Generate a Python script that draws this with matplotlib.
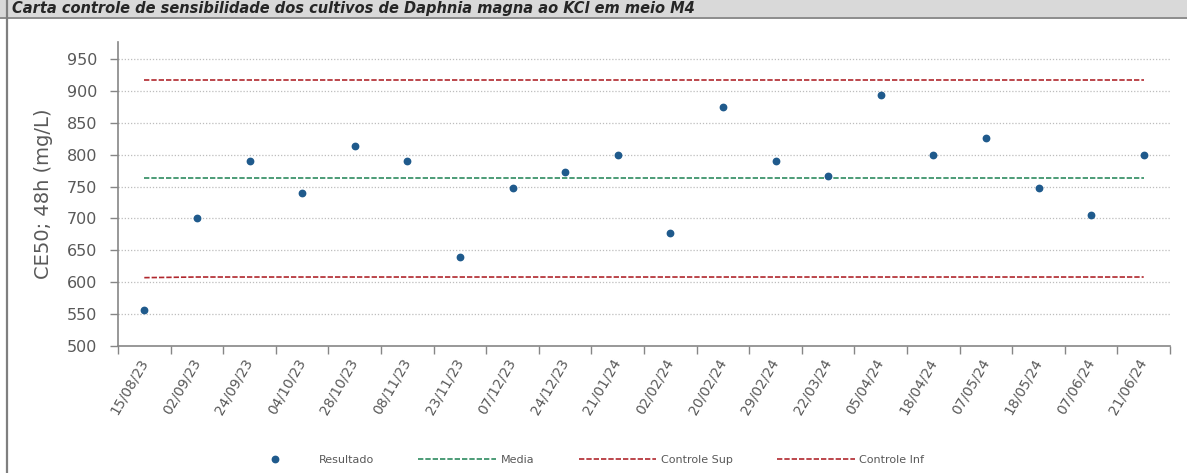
import matplotlib.pyplot as plt
from matplotlib.patches import Rectangle
from matplotlib.lines import Line2D
from matplotlib.ticker import FixedLocator

# data
datas = ["15/08/23", "02/09/23", "24/09/23", "04/10/23", "28/10/23", "08/11/23",
         "23/11/23", "07/12/23", "24/12/23", "21/01/24", "02/02/24", "20/02/24",
         "29/02/24", "22/03/24", "05/04/24", "18/04/24", "07/05/24", "18/05/24",
         "07/06/24", "21/06/24"]
resultado = [556, 700, 790, 740, 814, 790, 639, 747, 773, 800,
             677, 875, 790, 767, 893, 800, 826, 747, 706, 800]
media = [763, 763, 763, 763, 763, 763, 763, 763, 763, 763,
         763, 763, 763, 763, 763, 763, 763, 763, 763, 763]
controle_sup = [918, 918, 918, 918, 918, 918, 918, 918, 918, 918,
                918, 918, 918, 918, 918, 918, 918, 918, 918, 918]
controle_inf = [607, 608, 608, 608, 608, 608, 608, 608, 608, 608,
                608, 608, 608, 608, 608, 608, 608, 608, 608, 608]
yticks = [500, 550, 600, 650, 700, 750, 800, 850, 900, 950]

titulo = "Carta controle de sensibilidade dos cultivos de Daphnia magna ao KCl em meio M4"

W, H = 1187, 473
fig = plt.figure(figsize=(W / 100, H / 100), dpi=100)

# header band + frame
fig.patches.append(Rectangle((0, 1 - 17 / H), 1, 17 / H, transform=fig.transFigure,
                             facecolor="#d9d9d9", edgecolor="none", zorder=0))
fig.add_artist(Line2D([0, 1], [1 - 18 / H] * 2, transform=fig.transFigure,
                      color="#8c8c8c", lw=1.4))
fig.add_artist(Line2D([7 / W] * 2, [0, 1], transform=fig.transFigure,
                      color="#7f7f7f", lw=1.6))
fig.text(12 / W, 1 - 13.5 / H, titulo, fontsize=10.5, fontweight="bold", fontstyle="italic",
         color="#262626", va="baseline", ha="left")

ax = fig.add_axes([118 / W, 1 - 345.8 / H, (1170 - 118) / W, (345.8 - 42) / H])

x = list(range(len(datas)))
cinza = "#595959"

for v in yticks[1:]:
    ax.axhline(v, color="#bdbdbd", lw=0.9, ls=(0, (1, 1.5)), zorder=0)

ax.plot(x, media, color="#2e8b60", lw=1.2, ls=(0, (3.2, 1.2)), label="Media", zorder=2)
ax.plot(x, controle_sup, color="#b0272d", lw=1.2, ls=(0, (3.2, 1.2)), label="Controle Sup", zorder=2)
ax.plot(x, controle_inf, color="#b0272d", lw=1.2, ls=(0, (3.2, 1.2)), label="Controle Inf", zorder=2)
ax.plot(x, resultado, "o", color="#1f5a8c", ms=4.6, label="Resultado", zorder=3)

ax.set_xlim(-0.5, len(datas) - 0.5)
ax.set_ylim(500, 977)
ax.set_yticks(yticks)
ax.set_xticks(x)
ax.set_xticklabels(datas, rotation=60, ha="right", va="center", rotation_mode="anchor",
                   fontsize=10, color=cinza)
ax.xaxis.set_minor_locator(FixedLocator([i - 0.5 for i in range(len(datas) + 1)]))
ax.tick_params(axis="x", which="major", length=0, pad=10)
ax.tick_params(axis="x", which="minor", length=6, color="#868686", width=1)
ax.tick_params(axis="y", length=6, color="#868686", width=1, pad=9, labelsize=11.5,
               labelcolor=cinza)

for s in ["top", "right"]:
    ax.spines[s].set_visible(False)
for s in ["left", "bottom"]:
    ax.spines[s].set_color("#868686")
    ax.spines[s].set_linewidth(1.2)

ax.set_ylabel("CE50; 48h (mg/L)", fontsize=14, color=cinza, labelpad=10)

h, l = ax.get_legend_handles_labels()
ordem = [3, 0, 1, 2]
leg = fig.legend([h[i] for i in ordem], [l[i] for i in ordem], loc="center",
                 bbox_to_anchor=(0.489, 1 - 460 / H), ncol=4, frameon=False, fontsize=8,
                 handlelength=7, columnspacing=4, handletextpad=0.4)
for t in leg.get_texts():
    t.set_color(cinza)

fig.savefig("out.png", dpi=100)
